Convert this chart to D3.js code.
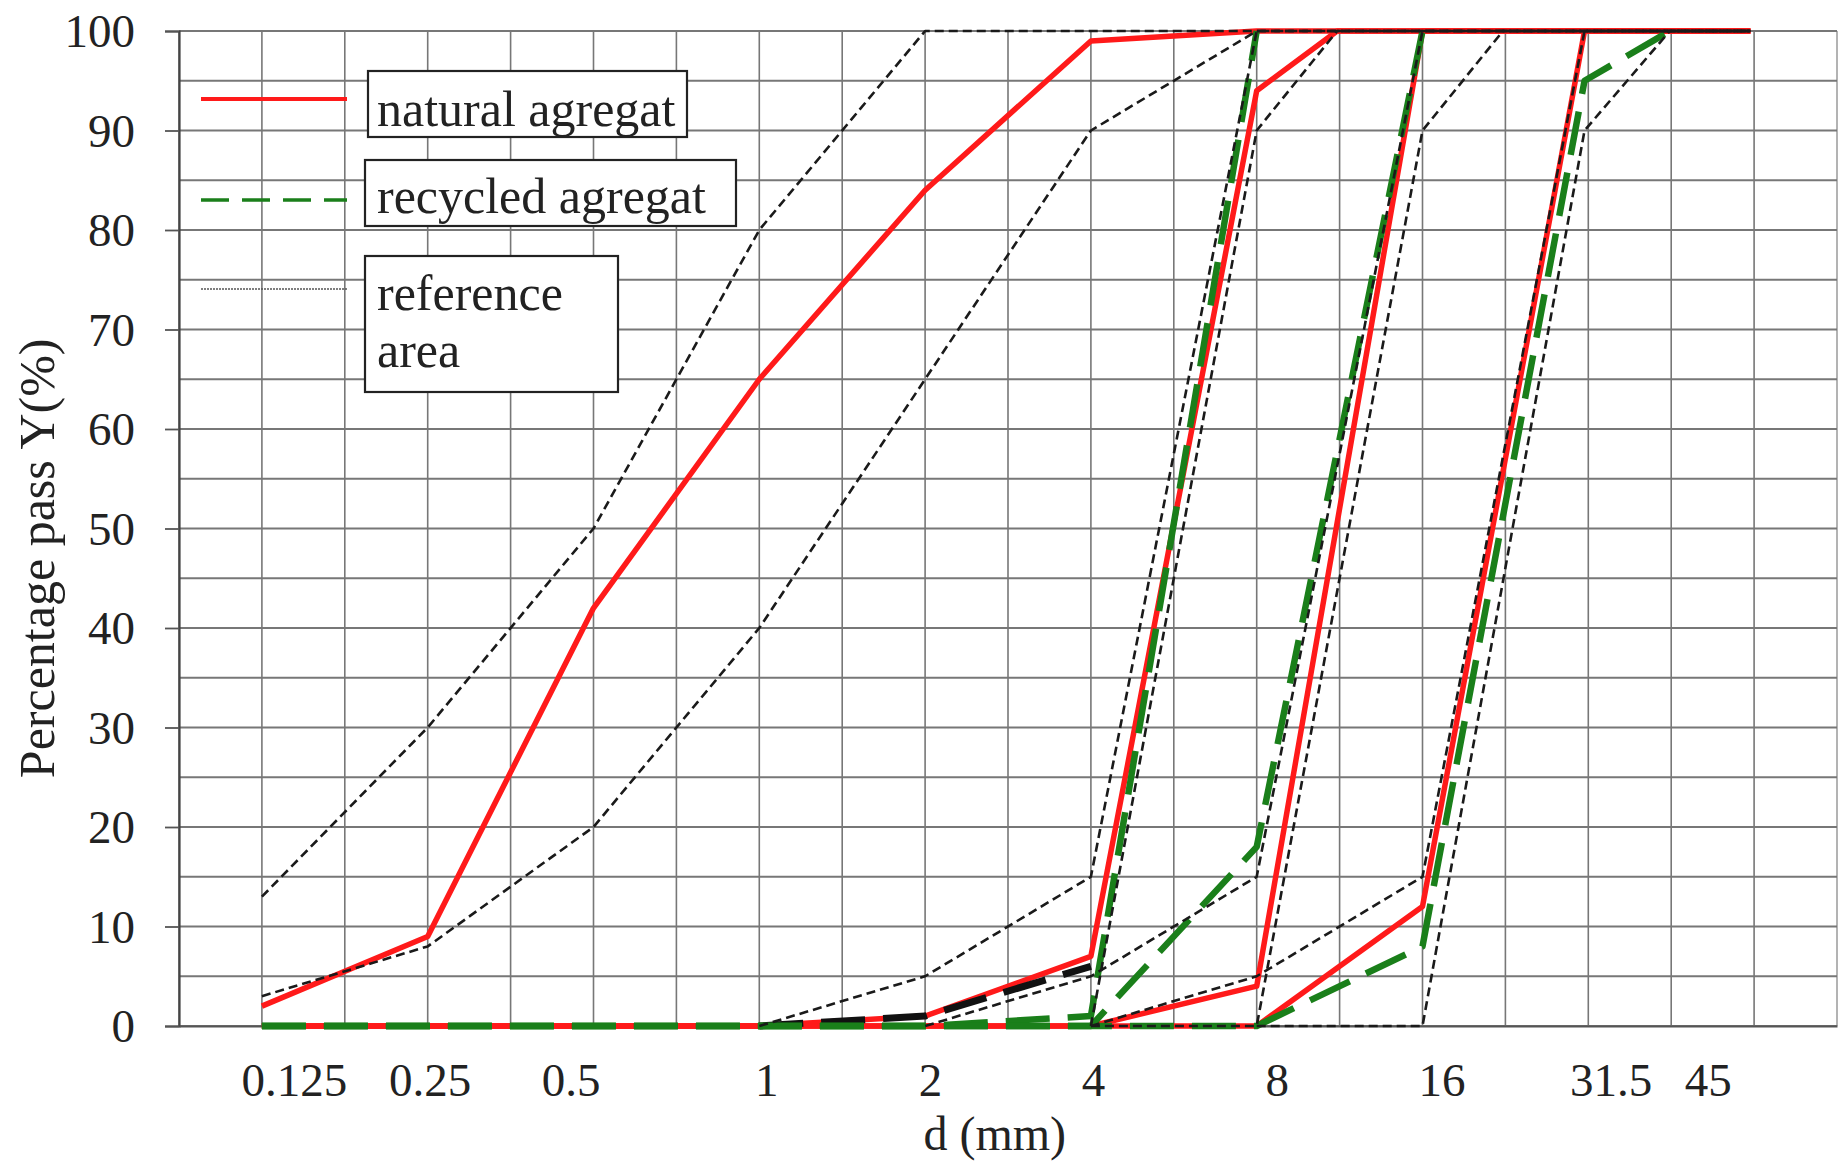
<!DOCTYPE html>
<html>
<head>
<meta charset="utf-8">
<script src="https://cdnjs.cloudflare.com/ajax/libs/d3/7.8.5/d3.min.js"></script>
<style>
  html, body { margin: 0; padding: 0; background: #fff; }
  svg { display: block; font-family: "Liberation Serif", "Times New Roman", serif; }
</style>
</head>
<body>
<svg id="chart" width="1841" height="1167"></svg>
<script>
// ---------- DATA ----------
const sieves = [0.125, 0.25, 0.5, 1, 2, 4, 8, 11.2, 16, 22.4, 31.5, 45, 63];

// natural aggregate (red)
const naturalSand   = [2, 9, 42, 65, 84, 99, 100, 100, 100, null, 100, 100, 100];
const natural4_8    = [0, 0, 0, 0, 1, 7, 94, 100, 100, null, 100, 100, 100];
const natural8_16   = [0, 0, 0, 0, 0, 0, 4, null, 100, null, 100, 100, 100];
const natural16_32  = [0, 0, 0, 0, 0, 0, 0, null, 12, null, 100, 100, 100];

// recycled aggregate (green)
const recycled4_8   = [0, 0, 0, 0, 0, 1, 100, null, null, null, null, null, null];
const recycled8_16  = [0, 0, 0, 0, 0, 0, 18, null, 100, null, null, null, null];
const recycled16_32 = [0, 0, 0, 0, 0, 0, 0, null, 8, null, 95, 100, null];
const recycledMix   = [null, null, null, 0, 1, 6, null, null, null, null, null, null, null];

// reference area limits (black dashed)
const refSandUpper  = [13, 30, 50, 80, 100, 100, 100, 100, 100, null, 100, 100, 100];
const refSandLower  = [3, 8, 20, 40, 65, 90, 100, 100, 100, null, 100, 100, 100];
const ref4_8Upper   = [null, null, null, 0, 5, 15, 100, 100, 100, null, 100, 100, 100];
const ref4_8Lower   = [null, null, null, null, null, 0, 90, 100, 100, null, 100, 100, 100];
const ref8_16Upper  = [null, null, null, null, 0, 5, 15, null, 100, null, 100, 100, 100];
const ref8_16Lower  = [null, null, null, null, null, 0, 0, null, 90, 100, 100, 100, 100];
const ref16_32Upper = [null, null, null, null, null, 0, 5, null, 15, null, 100, 100, 100];
const ref16_32Lower = [null, null, null, null, null, null, 0, null, 0, null, 90, 100, 100];

const xTickValues = [0.125, 0.25, 0.5, 1, 2, 4, 8, 16, 31.5, 45];
const xTickLabels = ["0.125", "0.25", "0.5", "1", "2", "4", "8", "16", "31.5", "45"];
const xTickShift  = [32, 2, -23, 7, 5, 2, 20, 19, 26, 38];   // label placement nudges (px)
const yTickValues = [0, 10, 20, 30, 40, 50, 60, 70, 80, 90, 100];
const legendLabels = [["natural agregat"], ["recycled agregat"], ["reference", "area"]];

// ---------- LAYOUT ----------
const svg = d3.select("#chart");
const plotL = 179, plotR = 1837, plotT = 31, plotB = 1026;

const x = d3.scaleLog().base(2).domain([Math.pow(2, -3.5), Math.pow(2, 6.5)]).range([plotL, plotR]);
const y = d3.scaleLinear().domain([0, 100]).range([plotB, plotT]);

// grid
const vGrid = d3.range(-7, 14).map(k => Math.pow(2, k / 2));
const hGrid = d3.range(0, 101, 5);
const grid = svg.append("g");
grid.selectAll("line.v").data(vGrid).join("line")
  .attr("x1", d => x(d)).attr("x2", d => x(d))
  .attr("y1", plotT).attr("y2", plotB)
  .attr("stroke", d => d > 64 ? "#a0a0a0" : "#777").attr("stroke-width", 1.6);
grid.selectAll("line.h").data(hGrid).join("line")
  .attr("x1", plotL).attr("x2", plotR)
  .attr("y1", d => y(d)).attr("y2", d => y(d))
  .attr("stroke", "#777").attr("stroke-width", 1.8);

// y axis
const yAxis = d3.axisLeft(y).tickValues(yTickValues).tickSize(14).tickPadding(30).tickFormat(d3.format("d"));
const gy = svg.append("g").attr("transform", `translate(${plotL},0)`).call(yAxis);
gy.select(".domain").attr("stroke", "#444").attr("stroke-width", 2.2);
gy.selectAll(".tick line").attr("stroke", "#555").attr("stroke-width", 1.8);
gy.selectAll(".tick text").attr("font-size", 47).attr("fill", "#222")
  .attr("font-family", "Liberation Serif").attr("dy", "0.34em");

// x axis baseline
const xAxis = d3.axisBottom(x).tickValues(xTickValues).tickSize(0).tickPadding(0)
  .tickFormat((d, i) => xTickLabels[i]);
const gx = svg.append("g").attr("transform", `translate(0,${plotB})`).call(xAxis);
gx.select(".domain").attr("stroke", "#555").attr("stroke-width", 2.2);
gx.selectAll(".tick text").attr("font-size", 47).attr("fill", "#222")
  .attr("font-family", "Liberation Serif")
  .attr("dy", 0).attr("y", 70)
  .attr("dx", (d, i) => xTickShift[i]);

// axis titles
svg.append("text").attr("x", x(Math.pow(2, 1.42))).attr("y", 1150)
  .attr("text-anchor", "middle").attr("font-size", 48).attr("fill", "#222")
  .text("d (mm)");
svg.append("text").attr("transform", `translate(54,${y(47)}) rotate(-90)`)
  .attr("text-anchor", "middle").attr("font-size", 50).attr("fill", "#222")
  .text("Percentage pass Y(%)");

// ---------- SERIES ----------
const line = d3.line().x(d => x(d[0])).y(d => y(d[1]));
const pts = vals => sieves.map((s, i) => [s, vals[i]]).filter(p => p[1] !== null);

const plot = svg.append("g");
const drawSeries = (vals, stroke, width, dash) => {
  plot.append("path").attr("d", line(pts(vals)))
    .attr("fill", "none").attr("stroke", stroke).attr("stroke-width", width)
    .attr("stroke-linejoin", "round")
    .attr("stroke-dasharray", dash || null);
};

const RED = "#ff1a1a", GREEN = "#1a7f1a";
[naturalSand, natural4_8, natural8_16, natural16_32].forEach(v => drawSeries(v, RED, 5.5));
drawSeries(recycledMix, "#111", 7, "44,18");
[recycled4_8, recycled8_16, recycled16_32].forEach(v => drawSeries(v, GREEN, 6.5, "44,18"));
[refSandUpper, refSandLower, ref4_8Upper, ref4_8Lower, ref8_16Upper, ref8_16Lower, ref16_32Upper, ref16_32Lower]
  .forEach(v => drawSeries(v, "#1a1a1a", 2.6, "9,5"));

// ---------- LEGEND ----------
const lg = svg.append("g");
const legendRows = [
  { ly: 99,  box: [368, 71, 319, 66],  stroke: RED,   w: 4,   dash: null,   textY: [126] },
  { ly: 200, box: [365, 160, 371, 66], stroke: GREEN, w: 3.5, dash: "28,13", textY: [213] },
  { ly: 289, box: [365, 256, 253, 136], stroke: "#555", w: 1.3, dash: "2,1",  textY: [310, 367] }
];
legendRows.forEach((r, i) => {
  lg.append("line").attr("x1", 201).attr("x2", 347).attr("y1", r.ly).attr("y2", r.ly)
    .attr("stroke", r.stroke).attr("stroke-width", r.w).attr("stroke-dasharray", r.dash);
  lg.append("rect").attr("x", r.box[0]).attr("y", r.box[1]).attr("width", r.box[2]).attr("height", r.box[3])
    .attr("fill", "#fff").attr("stroke", "#222").attr("stroke-width", 2.2);
  legendLabels[i].forEach((t, j) => {
    lg.append("text").attr("x", 377).attr("y", r.textY[j]).attr("font-size", 50).attr("fill", "#222").text(t);
  });
});
</script>
</body>
</html>
